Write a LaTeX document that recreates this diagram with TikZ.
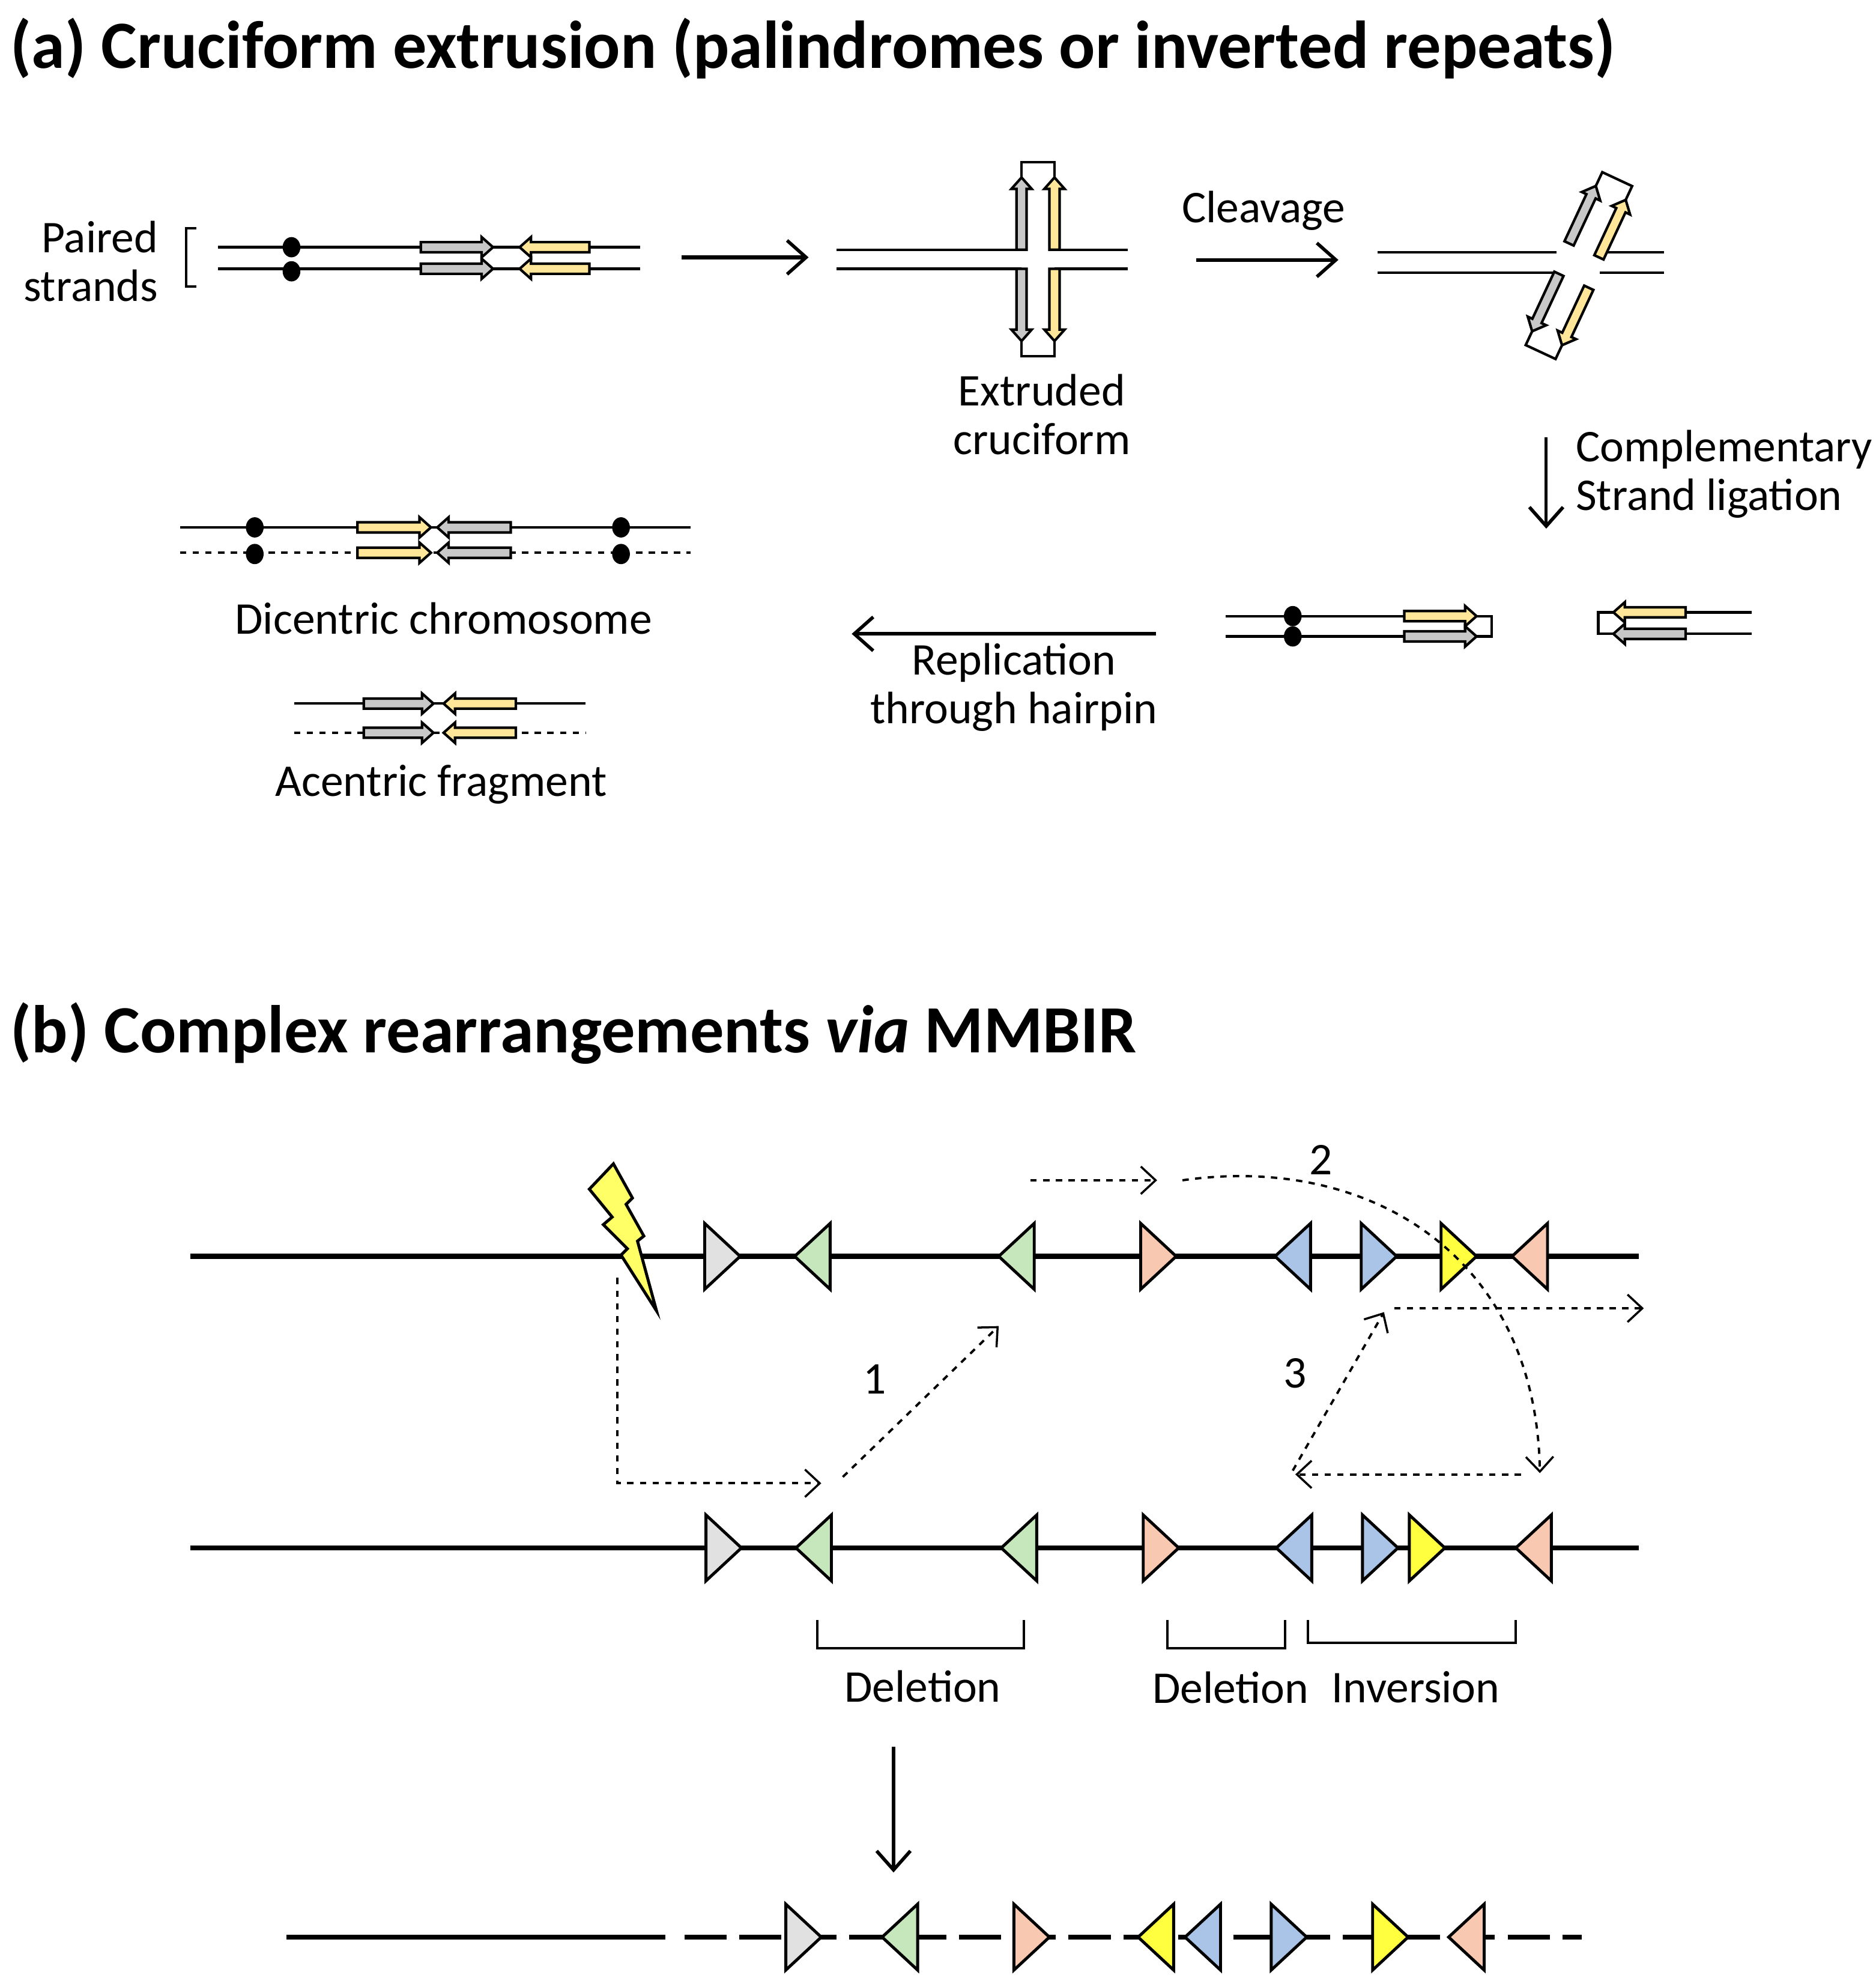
\documentclass[tikz,border=0pt]{standalone}
\usepackage{fontspec}
\setmainfont{Carlito}
\usetikzlibrary{arrows.meta,positioning}
\definecolor{graystrand}{RGB}{200,200,200}
\definecolor{yellowstrand}{RGB}{255,230,153}
\definecolor{motifgray}{RGB}{225,225,225}
\definecolor{motifgreen}{RGB}{198,230,188}
\definecolor{motifsalmon}{RGB}{248,200,176}
\definecolor{motifblue}{RGB}{169,196,230}
\definecolor{motifyellow}{RGB}{255,255,64}
\definecolor{boltyellow}{RGB}{255,255,102}
\tikzset{
  strand/.style={line width=1.2pt},
  dna/.style={line width=2.4pt},
  blockarrow/.style={line width=1.2pt,line join=miter},
  proc arrow/.style={line width=1.8pt,-{Straight Barb[length=9pt,width=16pt,line width=1.6pt]}},
  jump/.style={line width=1.1pt,dashed,-{Straight Barb[length=7pt,width=13pt,line width=1pt]}},
  lbl/.style={font=\fontsize{21.5}{23}\selectfont,align=center,inner sep=0pt},
  ttl/.style={font=\fontsize{32}{34}\selectfont\bfseries,anchor=west,inner sep=0pt},
  motif/.style={line width=1.4pt,line join=miter}
}
% arrow-shaped strand piece: x, y, angle, fill, length
\newcommand{\strandarrow}[5]{%
  \begin{scope}[shift={(#1,#2)},rotate=#3]
    \draw[blockarrow,fill=#4] (0,-4)--(#5-9,-4)--(#5-9,-8)--(#5,0)--(#5-9,8)--(#5-9,4)--(0,4)--cycle;
  \end{scope}}
% two strand pieces closed by a loop: x, y, angle, offset, length, fill 1, fill 2
\newcommand{\hairpin}[7]{%
  \begin{scope}[shift={(#1,#2)},rotate=#3]
    \draw[strand,fill=white] (#5-4,0)--(#5+12,0)--(#5+12,#4)--(#5-4,#4);
    \strandarrow{0}{0}{0}{#6}{#5}
    \strandarrow{0}{#4}{0}{#7}{#5}
  \end{scope}}
% motif triangle: x, y, direction (1 right, -1 left), fill
\newcommand{\motif}[4]{%
  \draw[motif,fill=#4] (#1-14*#3,#2-26)--(#1+14*#3,#2)--(#1-14*#3,#2+26)--cycle;}
\newcommand{\centro}[2]{\fill (#1,#2) ellipse (7 and 8);}
\begin{document}
\begin{tikzpicture}[x=0.0211cm,y=-0.0211cm]
\useasboundingbox (0,0) rectangle (1480,1565);
%% (a)
\node[ttl] (ta) at (8,38) {(a) Cruciform extrusion (palindromes or inverted repeats)};
% paired strands
\node[lbl,align=right,anchor=east] (paired) at (125,206) {Paired\\strands};
\draw[strand] (155,180)--(147,180)--(147,226)--(155,226);
\draw[strand] (172,195)--(505,195);
\draw[strand] (172,212)--(505,212);
\centro{230}{195} \centro{230}{214}
\strandarrow{332}{195}{0}{graystrand}{57}
\strandarrow{332}{212}{0}{graystrand}{57}
\strandarrow{465}{195}{180}{yellowstrand}{55}
\strandarrow{465}{212}{180}{yellowstrand}{55}
\coordinate (s1) at (538,203); \coordinate (e1) at (638,203);
\draw[proc arrow] (s1)--(e1);
% cruciform
\draw[strand] (660,197)--(806,197) (832,197)--(890,197);
\draw[strand] (660,212)--(806,212) (832,212)--(890,212);
\hairpin{806}{197}{90}{26}{57}{graystrand}{yellowstrand}
\hairpin{806}{212}{-90}{-26}{57}{graystrand}{yellowstrand}
\node[lbl] (extr) at (822,327) {Extruded\\cruciform};
\node[lbl] (cleav) at (997,166) {Cleavage};
\coordinate (s2) at (944,205); \coordinate (e2) at (1056,205);
\draw[proc arrow] (s2)--(e2);
% cleaved
\draw[strand] (1087,199)--(1228,199) (1262,199)--(1313,199);
\draw[strand] (1087,215)--(1228,215) (1262,215)--(1313,215);
\hairpin{1238}{192}{65}{26}{50}{graystrand}{yellowstrand}
\hairpin{1230}{216}{245}{-26}{50}{graystrand}{yellowstrand}
\coordinate (s3) at (1220,345); \coordinate (e3) at (1220,417);
\draw[proc arrow,line width=1.4pt] (s3)--(e3);
\node[lbl,align=left,anchor=west] (compl) at (1243,374) {Complementary\\Strand ligation};
% ligated products
\draw[strand] (967,486)--(1110,486) (967,502)--(1110,502);
\centro{1020}{486} \centro{1020}{502}
\hairpin{1108}{486}{0}{16}{57}{yellowstrand}{graystrand}
\draw[strand] (1330,483)--(1382,483) (1330,500)--(1382,500);
\hairpin{1330}{483}{180}{-17}{57}{yellowstrand}{graystrand}
\coordinate (s4) at (912,500); \coordinate (e4) at (672,500);
\draw[proc arrow] (s4)--(e4);
\node[lbl] (repl) at (800,542) {Replication\\through hairpin};
% dicentric chromosome
\draw[strand] (142,416)--(545,416);
\draw[strand,dashed] (142,436)--(545,436);
\centro{201}{416} \centro{201}{437} \centro{490}{416} \centro{490}{437}
\strandarrow{282}{416}{0}{yellowstrand}{58}
\strandarrow{282}{436}{0}{yellowstrand}{58}
\strandarrow{403}{416}{180}{graystrand}{58}
\strandarrow{403}{436}{180}{graystrand}{58}
\node[lbl] (dicen) at (350,488) {Dicentric chromosome};
% acentric fragment
\draw[strand] (232,555)--(462,555);
\draw[strand,dashed] (232,578)--(462,578);
\strandarrow{287}{555}{0}{graystrand}{55}
\strandarrow{287}{578}{0}{graystrand}{55}
\strandarrow{407}{555}{180}{yellowstrand}{57}
\strandarrow{407}{578}{180}{yellowstrand}{57}
\node[lbl] (acen) at (348,619) {Acentric fragment};
%% (b)
\node[ttl] (tb) at (8,815) {(b) Complex rearrangements \textit{via} MMBIR};
% donor line
\draw[dna] (150,991)--(1293,991);
\motif{570}{991}{1}{motifgray}
\motif{641}{991}{-1}{motifgreen}
\motif{802}{991}{-1}{motifgreen}
\motif{914}{991}{1}{motifsalmon}
\motif{1020}{991}{-1}{motifblue}
\motif{1088}{991}{1}{motifblue}
\motif{1151}{991}{1}{motifyellow}
\motif{1207}{991}{-1}{motifsalmon}
\draw[line width=1.4pt,fill=boltyellow,line join=miter] (484,918)--(499,945)--(494,950)--(508,975)--(503,979)--(518,1034)--(490,990)--(495,985)--(476,966)--(483,960)--(465,938)--cycle;
% template line
\draw[dna] (150,1221)--(1293,1221);
\motif{571}{1221}{1}{motifgray}
\motif{642}{1221}{-1}{motifgreen}
\motif{804}{1221}{-1}{motifgreen}
\motif{916}{1221}{1}{motifsalmon}
\motif{1021}{1221}{-1}{motifblue}
\motif{1089}{1221}{1}{motifblue}
\motif{1126}{1221}{1}{motifyellow}
\motif{1210}{1221}{-1}{motifsalmon}
% template switches
\coordinate (j0) at (487,1008); \coordinate (j1) at (487,1170); \coordinate (j2) at (648,1170);
\draw[jump] (j0)--(j1)--(j2);
\coordinate (j3) at (665,1165); \coordinate (j4) at (788,1046);
\draw[jump] (j3)--(j4);
\node[lbl] (n1) at (690,1088) {1};
\coordinate (j5) at (813,931); \coordinate (j6) at (913,931);
\draw[jump] (j5)--(j6);
\coordinate (j7) at (933,931); \coordinate (j8) at (1215,1162);
\draw[jump] (j7) .. controls (1080,910) and (1212,990) .. (j8);
\node[lbl] (n2) at (1042,915) {2};
\coordinate (j9) at (1200,1163); \coordinate (j10) at (1022,1163);
\draw[jump] (j9)--(j10);
\coordinate (j11) at (1020,1160); \coordinate (j12) at (1092,1035);
\draw[jump] (j11)--(j12);
\node[lbl] (n3) at (1022,1083) {3};
\coordinate (j13) at (1100,1032); \coordinate (j14) at (1297,1032);
\draw[jump] (j13)--(j14);
% events
\draw[strand] (645,1278)--(645,1300)--(808,1300)--(808,1278);
\node[lbl] (del1) at (728,1330) {Deletion};
\draw[strand] (921,1278)--(921,1300)--(1014,1300)--(1014,1278);
\node[lbl] (del2) at (971,1331) {Deletion};
\draw[strand] (1032,1278)--(1032,1296)--(1196,1296)--(1196,1278);
\node[lbl] (inv) at (1117,1331) {Inversion};
\coordinate (s5) at (705,1378); \coordinate (e5) at (705,1477);
\draw[proc arrow] (s5)--(e5);
% product
\draw[dna] (226,1528)--(525,1528);
\draw[dna,dash pattern=on 20pt off 6pt] (540,1528)--(1248,1528);
\motif{634}{1528}{1}{motifgray}
\motif{710}{1528}{-1}{motifgreen}
\motif{814}{1528}{1}{motifsalmon}
\motif{912}{1528}{-1}{motifyellow}
\motif{949}{1528}{-1}{motifblue}
\motif{1017}{1528}{1}{motifblue}
\motif{1097}{1528}{1}{motifyellow}
\motif{1157}{1528}{-1}{motifsalmon}
\end{tikzpicture}
\end{document}
